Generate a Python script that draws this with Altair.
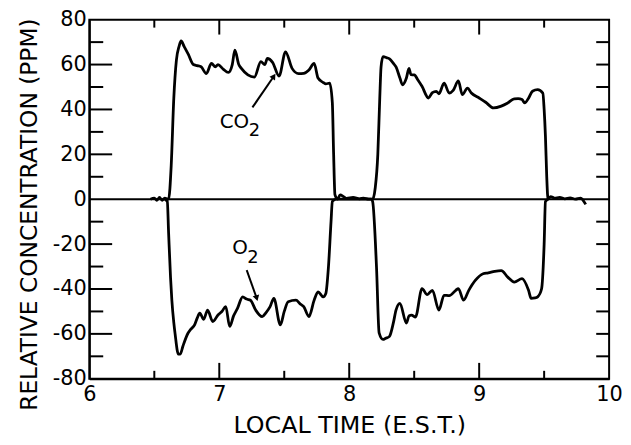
import altair as alt
import pandas as pd

# ---- data ----
co2_t = [6.47, 6.50, 6.52, 6.54, 6.56, 6.58, 6.61, 6.63, 6.65, 6.67, 6.69, 6.706, 6.73, 6.762,
         6.80, 6.83, 6.86, 6.90, 6.94, 6.97, 6.99, 7.03, 7.07, 7.10, 7.12, 7.15, 7.17, 7.22,
         7.27, 7.32, 7.35, 7.37, 7.41, 7.46, 7.51, 7.56, 7.61, 7.65, 7.69, 7.73, 7.76, 7.80,
         7.82, 7.85, 7.87, 7.88, 7.89, 7.91, 7.93, 7.96, 7.98, 8.03, 8.08, 8.11, 8.15, 8.18,
         8.20, 8.22, 8.235, 8.245, 8.26, 8.29, 8.31, 8.34, 8.36, 8.39, 8.41, 8.44, 8.46, 8.475,
         8.50, 8.53, 8.56, 8.61, 8.64, 8.67, 8.69, 8.73, 8.77, 8.80, 8.84, 8.87, 8.91, 8.94,
         9.00, 9.05, 9.11, 9.17, 9.22, 9.27, 9.30, 9.33, 9.35, 9.38, 9.41, 9.45, 9.49, 9.50,
         9.51, 9.52, 9.53, 9.55, 9.58, 9.62, 9.66, 9.70, 9.74, 9.78, 9.80, 9.82]
co2_v = [0, 0.5, -0.5, 0.8, -0.5, 0.5, 0, 15, 45, 62, 68, 70.5, 68, 64.5,
         60, 59.5, 59, 56, 60.5, 59, 60, 58, 56.5, 60, 66.4, 60, 58.3, 55.4,
         54.4, 61.3, 60, 62.7, 61, 54.9, 65.7, 58.3, 56, 56.1, 57.6, 60.5, 54, 52,
         51.4, 51.7, 43, 20, 2, 0, 1.9, 1, 0.4, 0.8, 0.2, 0.5, 0, 0,
         5, 20, 45, 59, 63.5, 63, 62.5, 60.5, 59, 54, 51, 54, 58.3, 55.5,
         55.4, 53, 50.3, 45.1, 47.5, 48.1, 47, 51.7, 47.3, 48.5, 52.7, 46.6, 49.5, 47.3,
         45.1, 43.2, 40.7, 41.5, 42.9, 44.7, 44.8, 44.4, 42.9, 45, 48.1, 48.8, 47.3, 40,
         28, 10, 0, 1.2, 0.5, 0.8, 0.2, 0.6, 0, 0.5, -0.5, -2.3]

o2_t = [6.58, 6.60, 6.61, 6.625, 6.635, 6.65, 6.66, 6.685, 6.70, 6.72, 6.76, 6.78, 6.81, 6.83,
        6.85, 6.88, 6.91, 6.95, 6.99, 7.02, 7.05, 7.08, 7.11, 7.14, 7.18, 7.21, 7.24, 7.28,
        7.33, 7.36, 7.39, 7.42, 7.47, 7.50, 7.53, 7.59, 7.62, 7.65, 7.69, 7.73, 7.76, 7.80,
        7.82, 7.84, 7.86, 7.87, 7.90, 8.17, 8.18, 8.21, 8.23, 8.26, 8.28, 8.31, 8.34, 8.36,
        8.39, 8.44, 8.46, 8.48, 8.51, 8.56, 8.60, 8.64, 8.69, 8.73, 8.77, 8.82, 8.84, 8.88,
        8.92, 8.97, 9.03, 9.07, 9.12, 9.17, 9.22, 9.27, 9.33, 9.38, 9.40, 9.43, 9.45, 9.48,
        9.50, 9.51, 9.53]
o2_v = [0, -1, -15, -35, -45, -55, -60, -69, -69, -65.5, -59.6, -58, -56, -53,
        -50.8, -53.5, -49.4, -54.5, -51.6, -50, -47.9, -56.7, -52, -48.6, -43.5, -44.5, -45, -49.4,
        -52.3, -50.5, -48, -44.2, -56, -50, -45.7, -45, -46.5, -47.9, -52.3, -45, -41.3, -43.5,
        -42, -30.3, -10, -1, 0, 0, -1, -30.3, -59.6, -62.5, -62, -61.1, -55, -49.4,
        -46.4, -55.2, -52, -51.6, -52.5, -39.8, -42.5, -40.6, -49.4, -42.8, -43, -40.6, -39.8, -45,
        -40.6, -36.2, -33.2, -32.8, -32.1, -31.8, -34.7, -36.9, -35.4, -40.6, -44.2, -44, -43.5, -40,
        -20, -1, 0]

x_labels = [6, 7, 8, 9, 10]
y_labels = [-80, -60, -40, -20, 0, 20, 40, 60, 80]
left_major = [-60, -40, -20, 20, 40, 60]
left_minor = [-70, -50, -30, -10, 10, 30, 50, 70]
right_ticks = [-70, -60, -50, -40, -30, -20, -10, 10, 20, 30, 40, 50, 60, 70]
x_major = [7, 8, 9]
x_minor = [6.5, 7.5, 8.5, 9.5]

label_text = ["CO", "2", "O", "2"]
label_t = [7.116, 7.27, 7.16, 7.259]
label_v = [34.2, 30.6, -21.8, -26.2]
label_size = [20, 18, 20, 18]

arrow_id = ["co2", "co2", "o2", "o2"]
arrow_t = [7.255, 7.42, 7.211, 7.288]
arrow_v = [40.9, 54.8, -31.6, -44.1]
head_t = [7.42, 7.288]
head_v = [54.8, -44.1]
head_angle = [34, 164]

W, H = 524, 362
FONT = "DejaVu Sans"

xs = alt.Scale(domain=[6, 10], nice=False, zero=False)
ys = alt.Scale(domain=[-80, 80], nice=False)

xa = alt.Axis(values=x_labels, title="LOCAL TIME (E.S.T.)", ticks=False,
              labelFontSize=21, labelPadding=5, titleFontSize=24,
              titlePadding=9, grid=False, labelFlush=False)
ya = alt.Axis(values=y_labels, title="RELATIVE CONCENTRATION (PPM)", ticks=False,
              labelFontSize=21, labelPadding=3, titleFontSize=23.5,
              titlePadding=11, titleY=196, grid=False, labelExpr="datum.value + ''")


def X(f="t"):
    return alt.X(f"{f}:Q", scale=xs, axis=xa)


def Y(f="v"):
    return alt.Y(f"{f}:Q", scale=ys, axis=ya)


series = pd.DataFrame({
    "t": co2_t + o2_t,
    "v": co2_v + o2_v,
    "s": ["CO2"] * len(co2_t) + ["O2"] * len(o2_t),
})

lines = alt.Chart(series).mark_line(color="black", strokeWidth=2.8, strokeJoin="round",
                                    interpolate="monotone").encode(
    x=X(), y=Y(), detail="s:N")

zero = alt.Chart(pd.DataFrame({"v": [0]})).mark_rule(color="black", strokeWidth=2).encode(y=Y())


def hticks(vals, x0, x1):
    return alt.Chart(pd.DataFrame({"v": vals})).mark_rule(color="black", strokeWidth=2).encode(
        y=Y(), x=alt.value(x0), x2=alt.value(x1))


def vticks(vals, y0, y1):
    return alt.Chart(pd.DataFrame({"t": vals})).mark_rule(color="black", strokeWidth=2).encode(
        x=X(), y=alt.value(y0), y2=alt.value(y1))


ticks = [
    hticks(left_major, 0, 23),
    hticks(left_minor, 0, 14),
    hticks(right_ticks, W - 13, W),
    vticks(x_major, 0, 15),
    vticks(x_minor, 0, 8),
    vticks(x_major, H - 16, H),
    vticks(x_minor, H - 8, H),
]

labels = alt.Chart(pd.DataFrame({"txt": label_text, "t": label_t, "v": label_v,
                                 "size": label_size})).mark_text(
    font=FONT, color="black", align="center", baseline="middle").encode(
    x=X(), y=Y(), text="txt:N",
    size=alt.Size("size:Q", scale=None, legend=None),
)

arrows = alt.Chart(pd.DataFrame({"id": arrow_id, "t": arrow_t, "v": arrow_v})).mark_line(
    color="black", strokeWidth=2).encode(x=X(), y=Y(), detail="id:N")

heads = alt.Chart(pd.DataFrame({"t": head_t, "v": head_v, "a": head_angle})).mark_point(
    shape="triangle-up", filled=True, color="black", size=45, opacity=1).encode(
    x=X(), y=Y(), angle=alt.Angle("a:Q", scale=None),
)

chart = alt.layer(lines, zero, *ticks, labels, arrows, heads).properties(
    width=W, height=H,
    autosize=alt.AutoSizeParams(type="none"),
    padding={"left": 82, "top": 10, "right": 14, "bottom": 64},
    background="white",
).configure_view(stroke="black", strokeWidth=2).configure_axis(
    domainColor="black", domainWidth=2, labelColor="black", titleColor="black",
    labelFont=FONT, titleFont=FONT, titleFontWeight="normal",
)

chart.save("out.html", embed_options={"renderer": "svg", "actions": False})
